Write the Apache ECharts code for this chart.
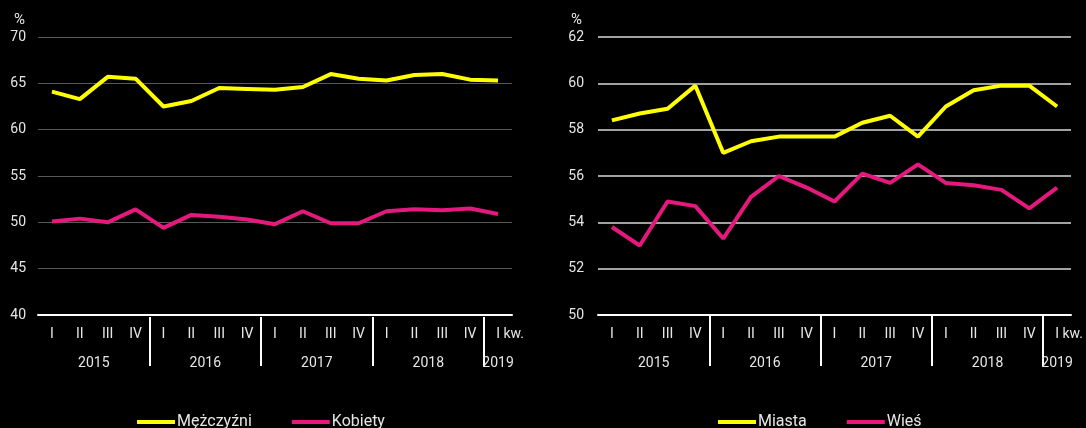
<!DOCTYPE html>
<html>
<head>
<meta charset="utf-8">
<script src="https://cdn.jsdelivr.net/npm/echarts@6/dist/echarts.min.js"></script>
<style>
  html, body { margin: 0; padding: 0; background: #000; }
  #wrap { width: 1086px; height: 428px; position: relative; }
  #left { position: absolute; left: 0; top: 0; width: 543px; height: 428px; }
  #right { position: absolute; left: 543px; top: 0; width: 543px; height: 428px; }
</style>
</head>
<body>
<div id="wrap"><div id="left"></div><div id="right"></div></div>
<script>
var quarters = ['I','II','III','IV','I','II','III','IV','I','II','III','IV','I','II','III','IV','I'];
var years = ['2015','2016','2017','2018','2019'];
var quartersInYear = [4, 4, 4, 4, 1];

var men   = [64.1, 63.3, 65.7, 65.5, 62.5, 63.1, 64.5, 64.4, 64.3, 64.6, 66.0, 65.5, 65.3, 65.9, 66.0, 65.4, 65.3];
var women = [50.1, 50.4, 50.0, 51.4, 49.4, 50.8, 50.6, 50.3, 49.8, 51.2, 49.9, 49.9, 51.2, 51.4, 51.3, 51.5, 50.9];

var cities = [58.4, 58.7, 58.9, 59.9, 57.0, 57.5, 57.7, 57.7, 57.7, 58.3, 58.6, 57.7, 59.0, 59.7, 59.9, 59.9, 59.0];
var rural  = [53.8, 53.0, 54.9, 54.7, 53.3, 55.1, 56.0, 55.5, 54.9, 56.1, 55.7, 56.5, 55.7, 55.6, 55.4, 54.6, 55.5];

// half-category slots for the year row: labels at group centres, ticks at group borders
var yearSlots = [];
for (var i = 0; i <= quarters.length * 2; i++) yearSlots.push('');
var borders = [];
var pos = 0;
years.forEach(function (y, k) {
  yearSlots[pos * 2 + quartersInYear[k]] = y;
  pos += quartersInYear[k];
  if (k < years.length - 1) borders.push(pos * 2);
});

var FONT = 'Roboto';
var TXT = '#e6e6e6';

function makeOption(cfg) {
  return {
    backgroundColor: '#000',
    animation: false,
    textStyle: { fontFamily: FONT },
    grid: { left: cfg.gridLeft, right: cfg.gridRight, top: 37, bottom: 113 },
    legend: {
      left: cfg.legendLeft,
      top: 409,
      icon: 'rect',
      itemWidth: 38,
      itemHeight: 4,
      itemGap: 40,
      textStyle: { color: TXT, fontSize: 16, fontFamily: FONT, padding: [0, 0, 0, -3] },
      data: cfg.names
    },
    xAxis: [{
      type: 'category',
      data: quarters,
      boundaryGap: true,
      axisLine: { lineStyle: { color: '#fff', width: 2 } },
      axisTick: { show: false },
      axisLabel: {
        interval: 0, color: TXT, fontSize: 14, margin: 12,
        formatter: function (v, idx) {
          return idx === quarters.length - 1 ? '{s|}' + v + ' kw.' : v;
        },
        rich: { s: { width: 24 } }
      }
    }, {
      type: 'category',
      data: yearSlots,
      boundaryGap: false,
      position: 'bottom',
      offset: cfg.tickOffset,
      axisLine: { show: false },
      axisTick: {
        show: true,
        length: 51 - cfg.tickOffset,
        interval: function (idx) { return borders.indexOf(idx) >= 0; },
        lineStyle: { color: '#fff', width: 2 }
      },
      axisLabel: { interval: 0, color: TXT, fontSize: 14, margin: 41 - cfg.tickOffset }
    }],
    yAxis: {
      type: 'value',
      min: cfg.min, max: cfg.max, interval: cfg.interval,
      name: '%',
      nameLocation: 'end',
      nameGap: 9,
      nameTextStyle: { color: TXT, fontSize: 15, align: 'right', padding: [0, cfg.namePad, 0, 0] },
      axisLine: { show: false },
      axisTick: { show: false },
      axisLabel: { color: TXT, fontSize: 14, margin: cfg.labelMargin },
      splitLine: { lineStyle: { color: cfg.gridColor, width: cfg.gridWidth } }
    },
    series: [{
      name: cfg.names[0], type: 'line', data: cfg.data[0],
      showSymbol: false, symbol: 'none',
      lineStyle: { color: '#ffff00', width: 4 }, itemStyle: { color: '#ffff00' }
    }, {
      name: cfg.names[1], type: 'line', data: cfg.data[1],
      showSymbol: false, symbol: 'none',
      lineStyle: { color: '#e5197d', width: 4 }, itemStyle: { color: '#e5197d' }
    }]
  };
}

var leftChart = echarts.init(document.getElementById('left'));
leftChart.setOption(makeOption({
  gridLeft: 38, gridRight: 31, legendLeft: 132,
  min: 40, max: 70, interval: 5,
  namePad: 13, labelMargin: 12, tickOffset: 2,
  gridColor: '#595959', gridWidth: 1,
  names: ['Mężczyźni', 'Kobiety'], data: [men, women]
}));

var rightChart = echarts.init(document.getElementById('right'));
rightChart.setOption(makeOption({
  gridLeft: 55, gridRight: 15, legendLeft: 170,
  min: 50, max: 62, interval: 2,
  namePad: 16, labelMargin: 14, tickOffset: 0,
  gridColor: '#d9d9d9', gridWidth: 1.5,
  names: ['Miasta', 'Wieś'], data: [cities, rural]
}));
</script>
</body>
</html>
